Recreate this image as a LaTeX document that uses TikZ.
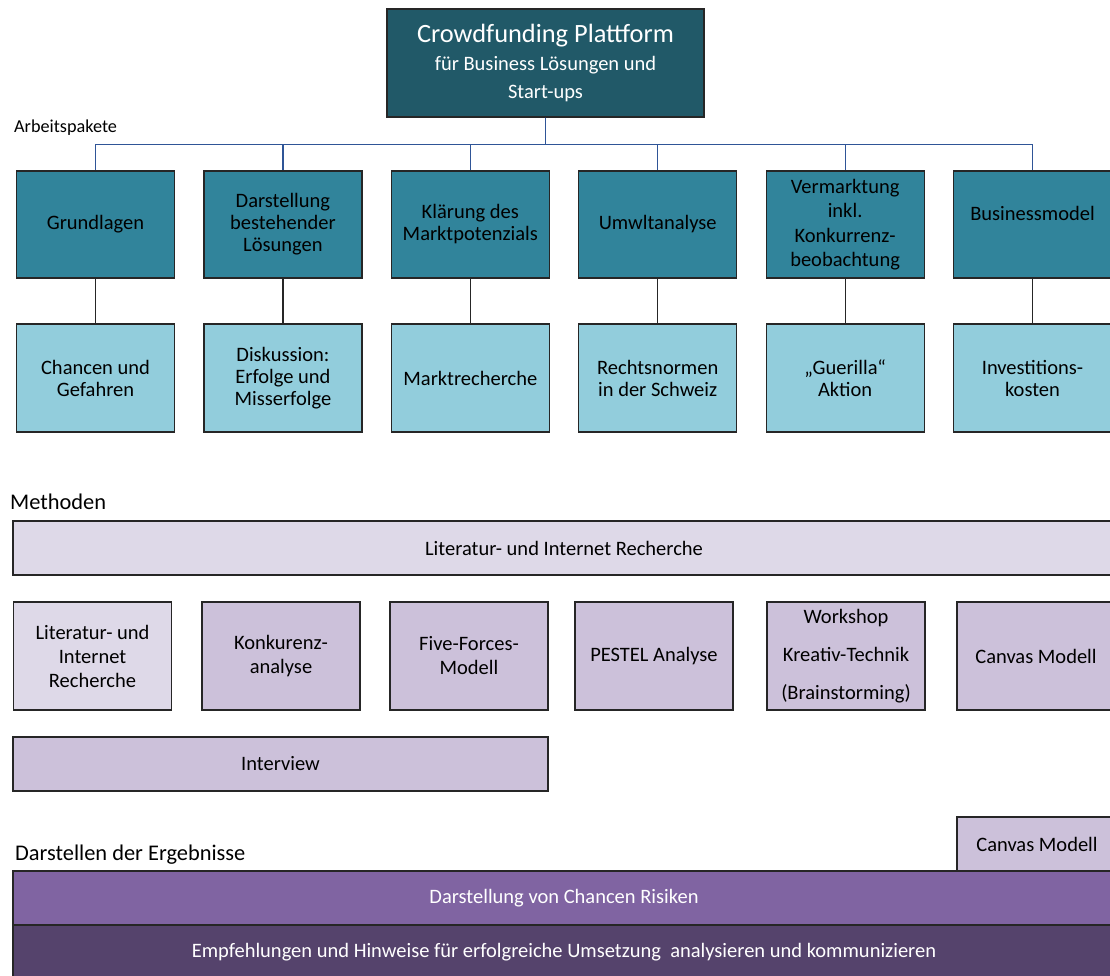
\documentclass[tikz,border=0pt]{standalone}
\usepackage{fontspec}
\setmainfont{Carlito}
\usepackage{tikz}

\definecolor{roottea}{RGB}{33,89,104}
\definecolor{wptea}{RGB}{49,132,155}
\definecolor{tasktea}{RGB}{146,205,220}
\definecolor{methlight}{RGB}{222,217,232}
\definecolor{methlila}{RGB}{204,193,218}
\definecolor{reslila}{RGB}{128,100,162}
\definecolor{resdark}{RGB}{85,67,108}
\definecolor{busblue}{RGB}{47,85,151}

\begin{document}
\begin{tikzpicture}[x=1pt,y=-1pt,
  level 1/.style={sibling distance=187.4pt,level distance=161.5pt,
    every child node/.style={xshift=18.5pt},
    edge from parent/.style={draw=busblue,line width=1.2pt},
    edge from parent path={(\tikzparentnode.south) -- ++(0pt,-27pt) -| (\tikzchildnode.north)}},
  level 2/.style={level distance=153.5pt,
    every child node/.style={},
    edge from parent/.style={draw=black!85,line width=1.2pt},
    edge from parent path={(\tikzparentnode.south) -- (\tikzchildnode.north)}},
  box/.style={draw=black!85,line width=1.2pt,inner sep=0pt,align=center,font=\fontsize{20.5}{22}\selectfont},
  root/.style={box,fill=roottea,text=white,minimum width=317pt,minimum height=108pt,font=\fontsize{20.5}{28}\selectfont},
  wp/.style={box,fill=wptea,minimum width=158pt,minimum height=107pt},
  task/.style={box,fill=tasktea,minimum width=158pt,minimum height=108pt},
  meth/.style={box,fill=methlila,minimum width=158pt,minimum height=108pt,font=\fontsize{20.5}{24}\selectfont},
  band/.style={box,minimum width=1102pt,minimum height=54pt},
  caption/.style={anchor=west,inner sep=0pt,font=\fontsize{22.4}{24}\selectfont}]

  \useasboundingbox (0,0) rectangle (1110,976);
  \clip (0,0) rectangle (1110,976);

  % Arbeitspakete
  \node[caption,font=\fontsize{18.2}{20}\selectfont] (lblap) at (14,128) {Arbeitspakete};

  \node [root] (root) at (545.5,63) {{\fontsize{26.4}{28}\selectfont Crowdfunding Plattform}\\für Business Lösungen und\\Start-ups}
    child{
      node [wp] (wp1) {Grundlagen}
      child{ node [task] (t1) {Chancen und\\Gefahren} }
    }
    child{
      node [wp] (wp2) {Darstellung\\bestehender\\Lösungen}
      child{ node [task] (t2) {Diskussion:\\Erfolge und\\Misserfolge} }
    }
    child{
      node [wp] (wp3) {Klärung des\\Marktpotenzials}
      child{ node [task] (t3) {Marktrecherche} }
    }
    child{
      node [wp] (wp4) {Umwltanalyse}
      child{ node [task] (t4) {Rechtsnormen\\in der Schweiz} }
    }
    child{
      node [wp,font=\fontsize{20.5}{24.5}\selectfont] (wp5) {Vermarktung\\inkl.\\Konkurrenz-\\beobachtung}
      child{ node [task] (t5) {„Guerilla“\\Aktion} }
    }
    child{
      node [wp,text depth=22pt] (wp6) {Businessmodel}
      child{ node [task] (t6) {Investitions-\\kosten} }
    };

  % Methoden
  \node[caption] (lblmeth) at (10,502) {Methoden};
  \node[band,fill=methlight] (m0) at (564,548) {Literatur- und Internet Recherche};
  \node[meth,fill=methlight] (m1) at (92.5,656) {Literatur- und\\Internet\\Recherche};
  \node[meth] (m2) at (281,656) {Konkurenz-\\analyse};
  \node[meth] (m3) at (469,656) {Five-Forces-\\Modell};
  \node[meth] (m4) at (654,656) {PESTEL Analyse};
  \node[meth,font=\fontsize{20.5}{38}\selectfont] (m5) at (846,656) {Workshop\\Kreativ-Technik\\(Brainstorming)};
  \node[meth] (m6) at (1036,656) {Canvas Modell};
  \node[box,fill=methlila,minimum width=535pt,minimum height=54pt] (m7) at (280.5,764) {Interview};

  % Darstellen der Ergebnisse
  \node[caption] (lblres) at (15,855) {Darstellen der Ergebnisse};
  \node[box,fill=methlila,minimum width=160pt,minimum height=54pt] (r0) at (1037,844) {Canvas Modell};
  \node[band,fill=reslila,text=white] (r1) at (564,898) {Darstellung von Chancen Risiken};
  \node[band,fill=resdark,text=white] (r2) at (564,952) {Empfehlungen und Hinweise für erfolgreiche Umsetzung\ \ analysieren und kommunizieren};

\end{tikzpicture}
\end{document}
